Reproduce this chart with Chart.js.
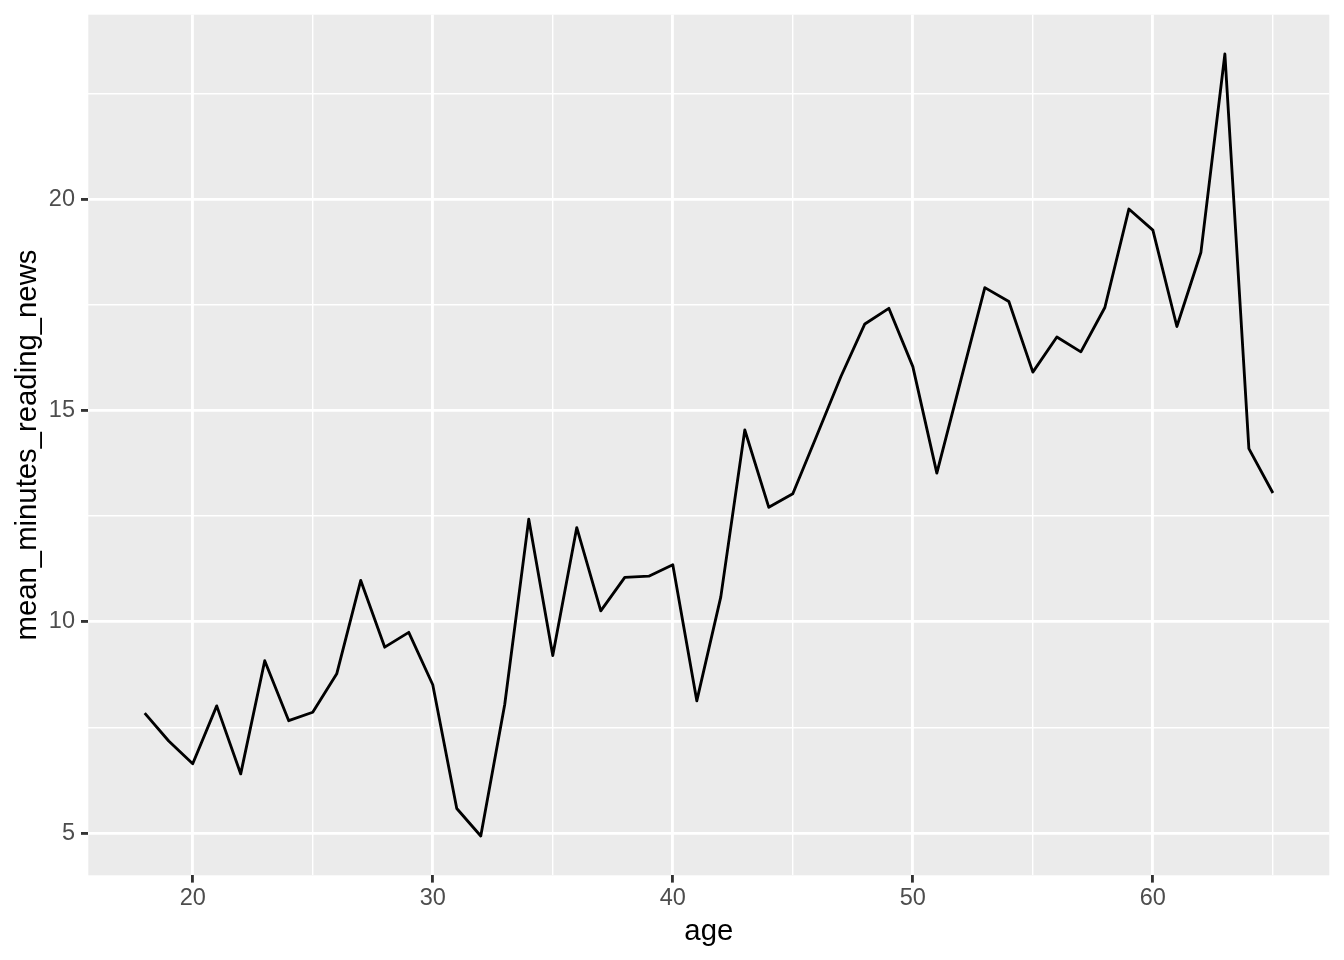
<!DOCTYPE html>
<html>
<head>
<meta charset="utf-8">
<script src="https://cdn.jsdelivr.net/npm/chart.js@4/dist/chart.umd.min.js"></script>
<style>
  html, body { margin: 0; padding: 0; background: #ffffff; }
  #wrap { width: 1344px; height: 960px; }
</style>
</head>
<body>
<div id="wrap"><canvas id="c" width="1344" height="960"></canvas></div>
<script>
// ---- data ----
const ages = [18, 19, 20, 21, 22, 23, 24, 25, 26, 27, 28, 29, 30, 31, 32, 33, 34, 35, 36, 37, 38, 39, 40, 41,
              42, 43, 44, 45, 46, 47, 48, 49, 50, 51, 52, 53, 54, 55, 56, 57, 58, 59, 60, 61, 62, 63, 64, 65];
const meanMinutes = [7.84, 7.18, 6.64, 8.01, 6.40, 9.08, 7.66, 7.86, 8.77, 10.98, 9.40, 9.75, 8.51, 5.58, 4.93, 8.05,
                     12.43, 9.20, 12.23, 10.26, 11.05, 11.08, 11.35, 8.13, 10.59, 14.54, 12.71, 13.03, 14.41, 15.80,
                     17.05, 17.42, 16.04, 13.52, 15.72, 17.91, 17.58, 15.91, 16.74, 16.39, 17.44, 19.77, 19.27, 16.99,
                     18.74, 23.44, 14.10, 13.05];
const xTicks = [20, 25, 30, 35, 40, 45, 50, 55, 60, 65];
const xMajor = [20, 30, 40, 50, 60];
const yTicks = [5, 7.5, 10, 12.5, 15, 17.5, 20, 22.5];
const yMajor = [5, 10, 15, 20];
const xLimits = [15.65, 67.35];
const yLimits = [4.0, 24.37];

// ---- styles ----
const FONT = "'Liberation Sans', Arial, Helvetica, sans-serif";
const PANEL_BG = '#EBEBEB';
const MAJOR_W = 2.85, MINOR_W = 1.42;

const panelBg = {
  id: 'panelBg',
  beforeDraw(chart) {
    const { ctx, chartArea: a } = chart;
    ctx.save();
    ctx.fillStyle = PANEL_BG;
    ctx.fillRect(a.left, a.top, a.right - a.left, a.bottom - a.top);
    ctx.restore();
  }
};

function gridOpts(major) {
  const isMajor = (c) => c.tick && major.includes(c.tick.value);
  return {
    color: '#FFFFFF',
    lineWidth: (c) => isMajor(c) ? MAJOR_W : MINOR_W,
    drawTicks: true,
    tickLength: 7.3,
    tickColor: (c) => isMajor(c) ? '#333333' : 'rgba(0,0,0,0)',
    tickWidth: (c) => isMajor(c) ? MAJOR_W : 0
  };
}

function noPad(s) {
  s.paddingTop = 0; s.paddingBottom = 0; s.paddingLeft = 0; s.paddingRight = 0;
}

new Chart(document.getElementById('c'), {
  type: 'line',
  data: {
    datasets: [{
      data: ages.map((a, i) => ({ x: a, y: meanMinutes[i] })),
      borderColor: '#000000',
      borderWidth: 2.85,
      pointRadius: 0,
      tension: 0,
      borderJoinStyle: 'round',
      fill: false
    }]
  },
  options: {
    responsive: false,
    animation: false,
    devicePixelRatio: 1,
    layout: { padding: { top: 14.7, right: 14.7, left: 0, bottom: 0 } },
    plugins: { legend: { display: false }, tooltip: { enabled: false } },
    scales: {
      x: {
        type: 'linear',
        min: xLimits[0], max: xLimits[1],
        offset: false,
        afterBuildTicks: (s) => { s.ticks = xTicks.map(v => ({ value: v })); },
        afterFit: (s) => { s.height = 84.7; noPad(s); },
        border: { display: false },
        grid: gridOpts(xMajor),
        ticks: {
          autoSkip: false,
          maxRotation: 0,
          padding: 1.6,
          color: '#4D4D4D',
          font: { family: FONT, size: 23.5, lineHeight: 1.2 },
          callback: (v) => xMajor.includes(v) ? String(v) : ''
        },
        title: {
          display: true,
          text: 'age',
          color: '#000000',
          font: { family: FONT, size: 29.3, lineHeight: 1.2 },
          padding: { top: 0, bottom: 10.5 }
        }
      },
      y: {
        type: 'linear',
        min: yLimits[0], max: yLimits[1],
        afterBuildTicks: (s) => { s.ticks = yTicks.map(v => ({ value: v })); },
        afterFit: (s) => { s.width = 88.3; noPad(s); },
        border: { display: false },
        grid: gridOpts(yMajor),
        ticks: {
          autoSkip: false,
          padding: 6.0,
          color: '#4D4D4D',
          font: { family: FONT, size: 23.5, lineHeight: 1.2 },
          callback: (v) => yMajor.includes(v) ? String(v) : ''
        },
        title: {
          display: true,
          text: 'mean_minutes_reading_news',
          color: '#000000',
          font: { family: FONT, size: 29.3, lineHeight: 1.2 },
          padding: { top: 10.5, bottom: 0 }
        }
      }
    }
  },
  plugins: [panelBg]
});
</script>
</body>
</html>
